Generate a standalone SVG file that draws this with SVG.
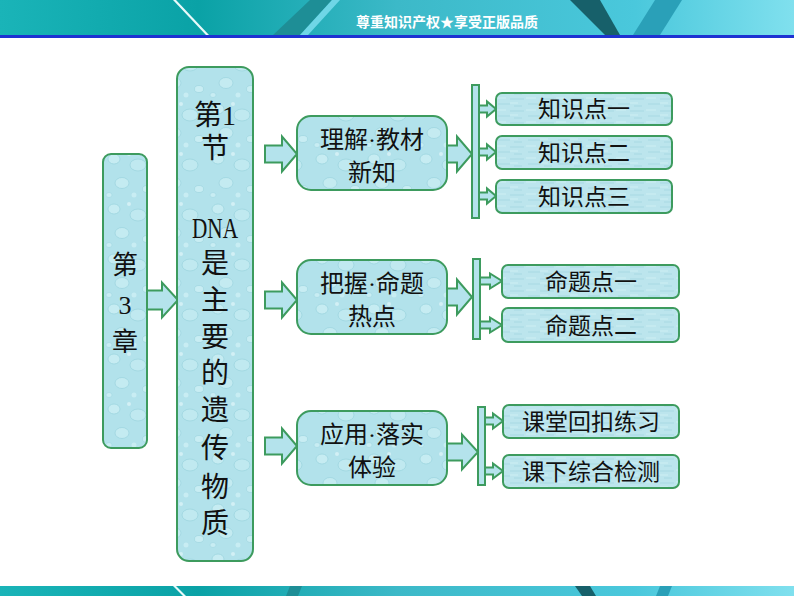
<svg xmlns="http://www.w3.org/2000/svg" width="794" height="596" viewBox="0 0 794 596">
<defs>
<linearGradient id="ban" x1="0" y1="0" x2="1" y2="0">
<stop offset="0" stop-color="#1ab4b8"/>
<stop offset="0.25" stop-color="#0aa2a6"/>
<stop offset="0.5" stop-color="#3cb9c8"/>
<stop offset="0.8" stop-color="#4ac8dc"/>
<stop offset="1" stop-color="#80e0ee"/>
</linearGradient>
<pattern id="drops" width="52" height="50" patternUnits="userSpaceOnUse">
<rect width="52" height="50" fill="#b2e2eb"/>
<ellipse cx="10" cy="9" rx="6" ry="5" fill="#c6ecf2" stroke="#98d2dd" stroke-width="0.7"/>
<ellipse cx="34" cy="15" rx="8" ry="6" fill="#c0e9f0" stroke="#98d2dd" stroke-width="0.7"/>
<ellipse cx="18" cy="33" rx="7" ry="5.5" fill="#c4ebf1" stroke="#9ad3de" stroke-width="0.7"/>
<ellipse cx="43" cy="39" rx="4.5" ry="3.5" fill="#c8edf3" stroke="#9ad3de" stroke-width="0.6"/>
<ellipse cx="5" cy="45" rx="3" ry="2.5" fill="#c8edf3" stroke="#9ad3de" stroke-width="0.5"/>
<circle cx="25" cy="4" r="2" fill="#d2f0f5"/>
<circle cx="30" cy="45" r="2.5" fill="#c8edf3"/>
</pattern>
<pattern id="brush" width="30" height="12" patternUnits="userSpaceOnUse">
<rect width="30" height="12" fill="#bce5ed"/>
<path d="M0 3 H14 M18 8 H30 M4 10 H12" stroke="#a9dae4" stroke-width="1.2"/>
<path d="M16 2 H26 M0 7 H8" stroke="#cfeff4" stroke-width="1"/>
</pattern>
<style>
.bx{fill:url(#drops);stroke:#3d9b5e;stroke-width:2}
.lf{fill:url(#brush);stroke:#3d9b5e;stroke-width:2}
.ar{fill:#b4e3ec;stroke:#3d9b5e;stroke-width:2;stroke-linejoin:miter}
.br{fill:#b4e3ec;stroke:#3d9b5e;stroke-width:2}
.t{font-family:"Liberation Serif","Noto Sans CJK SC",serif;fill:#111;text-anchor:middle}
.big{font-size:28px}
.mid{font-size:24px}
.sm{font-size:23px}
</style>
</defs>
<rect width="794" height="596" fill="#ffffff"/>
<g id="top-banner">
<rect x="0" y="0" width="794" height="35" fill="url(#ban)"/>
<polygon points="310,0 332,0 300,35 273,35" fill="#1e8e96"/>
<polygon points="332,0 340,0 308,35 300,35" fill="#6fd6e6"/>
<polygon points="570,0 600,0 620,35 605,35" fill="#17606a"/>
<polygon points="655,0 682,0 660,35 633,35" fill="#2aa0b8"/>
<polygon points="173,0 176,0 209,35 206,35" fill="#e8fafa"/>
<rect x="0" y="35" width="794" height="3" fill="#1e32d2"/>
<text x="447" y="27" font-family="Noto Sans CJK SC,sans-serif" font-size="14" font-weight="bold" fill="#ffffff" text-anchor="middle">尊重知识产权★享受正版品质</text>
</g>
<g id="bottom-banner">
<rect x="0" y="586" width="794" height="10" fill="url(#ban)"/>
<polygon points="290,586 302,586 298,596 286,596" fill="#1e8e96"/>
<polygon points="575,586 590,586 596,596 582,596" fill="#17606a"/>
<polygon points="660,586 672,586 668,596 656,596" fill="#2aa0b8"/>
<polygon points="173,586 176,586 186,596 183,596" fill="#e8fafa"/>
</g>
<g id="connectors">
<path class="ar" d="M147,290.5 H162 V282.5 L178,300 L162,317.5 V309.5 H147 Z"/>
<path class="ar" d="M265,145.5 H282 V136.5 L297,154 L282,171.5 V162.5 H265 Z"/>
<path class="ar" d="M265,291.5 H282 V282.5 L297,300 L282,317.5 V308.5 H265 Z"/>
<path class="ar" d="M265,437.5 H282 V428.5 L297,446 L282,463.5 V454.5 H265 Z"/>
<path class="ar" d="M447,145.5 H457 V136.5 L472,154 L457,171.5 V162.5 H447 Z"/>
<path class="ar" d="M447,288.5 H457 V279.5 L472,297 L457,314.5 V305.5 H447 Z"/>
<path class="ar" d="M447,443.5 H462 V434.5 L478,452 L462,469.5 V460.5 H447 Z"/>
<rect class="br" x="472" y="85" width="7" height="133"/>
<rect class="br" x="473" y="259" width="7" height="80"/>
<rect class="br" x="478" y="407" width="7" height="78"/>
<path class="ar" d="M479,105.5 H487 V101.5 L496,109 L487,116.5 V112.5 H479 Z"/>
<path class="ar" d="M479,148.5 H487 V144.5 L496,152 L487,159.5 V155.5 H479 Z"/>
<path class="ar" d="M479,192.5 H487 V188.5 L496,196 L487,203.5 V199.5 H479 Z"/>
<path class="ar" d="M480,277.5 H490 V273.5 L502,281 L490,288.5 V284.5 H480 Z"/>
<path class="ar" d="M480,321.5 H490 V317.5 L502,325 L490,332.5 V328.5 H480 Z"/>
<path class="ar" d="M485,417.5 H493 V413.5 L503,421 L493,428.5 V424.5 H485 Z"/>
<path class="ar" d="M485,467.5 H493 V463.5 L503,471 L493,478.5 V474.5 H485 Z"/>
</g>
<g id="chapter">
<rect class="bx" x="103" y="154" width="44" height="294" rx="8"/>
<text class="t" font-size="26" x="125" y="274">第</text>
<text class="t" font-size="26" x="125" y="314">3</text>
<text class="t" font-size="26" x="125" y="351">章</text>
</g>
<g id="section">
<rect class="bx" x="177" y="67" width="76" height="494" rx="12"/>
<text class="t big" x="215" y="125" textLength="42" lengthAdjust="spacingAndGlyphs">第1</text>
<text class="t big" x="215" y="158">节</text>
<text class="t" font-size="30" x="215" y="238" textLength="46" lengthAdjust="spacingAndGlyphs">DNA</text>
<text class="t big" x="215" y="273">是</text>
<text class="t big" x="215" y="310">主</text>
<text class="t big" x="215" y="347">要</text>
<text class="t big" x="215" y="383">的</text>
<text class="t big" x="215" y="420">遗</text>
<text class="t big" x="215" y="458">传</text>
<text class="t big" x="215" y="497">物</text>
<text class="t big" x="215" y="533">质</text>
</g>
<g id="understand">
<rect class="bx" x="297" y="116" width="150" height="74" rx="14"/>
<text class="t mid" x="372" y="148">理解·教材</text>
<text class="t mid" x="372" y="181">新知</text>
</g>
<g id="grasp">
<rect class="bx" x="297" y="260" width="150" height="74" rx="14"/>
<text class="t mid" x="372" y="292">把握·命题</text>
<text class="t mid" x="372" y="325">热点</text>
</g>
<g id="apply">
<rect class="bx" x="297" y="411" width="150" height="74" rx="14"/>
<text class="t mid" x="372" y="443">应用·落实</text>
<text class="t mid" x="372" y="476">体验</text>
</g>
<g id="k1">
<rect class="lf" x="496" y="93" width="176" height="32" rx="6"/>
<text class="t sm" x="584" y="117">知识点一</text>
</g>
<g id="k2">
<rect class="lf" x="496" y="136" width="176" height="33" rx="6"/>
<text class="t sm" x="584" y="161">知识点二</text>
</g>
<g id="k3">
<rect class="lf" x="496" y="180" width="176" height="33" rx="6"/>
<text class="t sm" x="584" y="205">知识点三</text>
</g>
<g id="p1">
<rect class="lf" x="502" y="265" width="177" height="33" rx="6"/>
<text class="t sm" x="591" y="290">命题点一</text>
</g>
<g id="p2">
<rect class="lf" x="502" y="308" width="177" height="34" rx="6"/>
<text class="t sm" x="591" y="334">命题点二</text>
</g>
<g id="e1">
<rect class="lf" x="503" y="405" width="176" height="33" rx="6"/>
<text class="t sm" x="591" y="430">课堂回扣练习</text>
</g>
<g id="e2">
<rect class="lf" x="503" y="455" width="176" height="33" rx="6"/>
<text class="t sm" x="591" y="480">课下综合检测</text>
</g>
</svg>
